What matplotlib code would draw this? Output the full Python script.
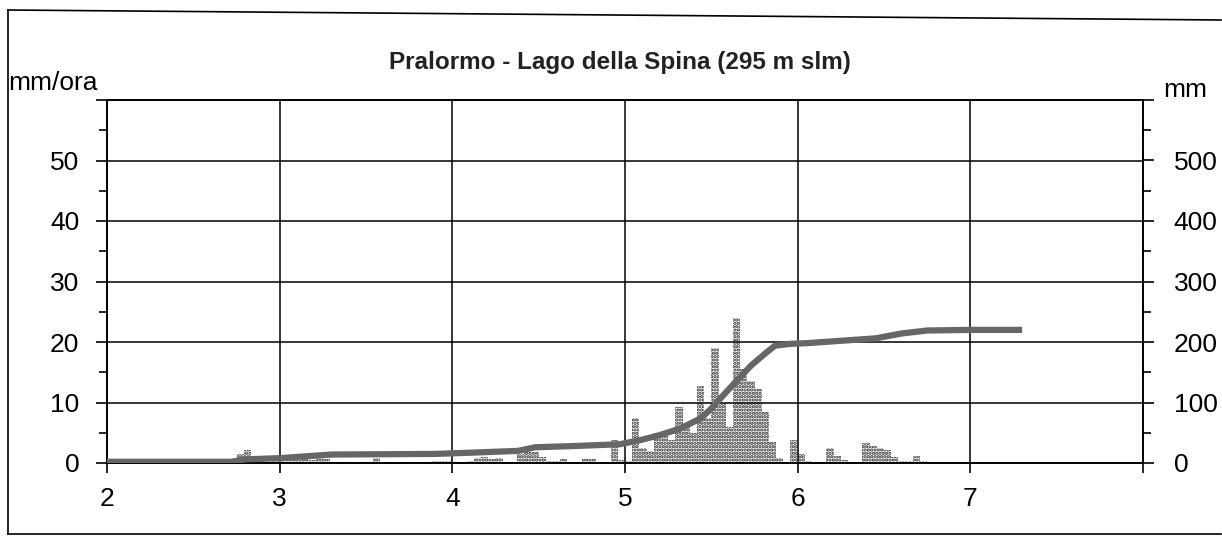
import matplotlib
matplotlib.use("Agg")
import matplotlib.pyplot as plt
import numpy as np
from matplotlib.lines import Line2D

plt.rcParams['font.family'] = ['Liberation Sans', 'DejaVu Sans']

title = "Pralormo - Lago della Spina (295 m slm)"
left_label = "mm/ora"
right_label = "mm"

# hourly rainfall intensity (mm/ora); hour index counted from day 2.0
rain_hours = list(range(0, 120))
rain_vals = [
    0, 0, 0, 0, 0, 0, 0, 0, 0, 0,            # 0-9
    0, 0, 0, 0, 0, 0, 0, 0.5, 1.5, 2.2,      # 10-19
    1.2, 0.3, 0, 0.3, 0.4, 0.5, 0.5, 0.6, 0.5, 0.8,  # 20-29
    0.6, 0.2, 0, 0.2, 0.2, 0, 0.2, 0.8, 0.2, 0,      # 30-39
    0, 0, 0, 0, 0.2, 0.3, 0.3, 0.3, 0.1, 0.2,        # 40-49
    0.4, 0.8, 1.0, 0.7, 0.9, 0.2, 0.1, 1.5, 2.0, 1.8,  # 50-59
    1.0, 0.4, 0.3, 0.6, 0, 0.2, 0.6, 0.7, 0.2, 0,      # 60-69
    3.8, 0.5, 0.3, 7.5, 2.5, 2.0, 5.0, 4.5, 3.8, 9.2,  # 70-79
    6.0, 5.0, 12.8, 7.5, 19.0, 10.0, 6.0, 24.0, 15.5, 13.5,  # 80-89
    12.3, 8.5, 3.5, 0.8, 0, 3.8, 1.5, 0.3, 0.2, 0.2,   # 90-99
    2.5, 1.2, 0.5, 0.1, 0.2, 3.3, 2.8, 2.5, 2.1, 1.0,  # 100-109
    0.4, 0.4, 1.2, 0.4, 0, 0, 0, 0.2, 0.2, 0,          # 110-119
]

# cumulative rainfall (mm) vs day
cum_days = [2.0, 2.72, 2.8, 3.0, 3.3, 3.9, 4.1, 4.38, 4.48, 4.7, 4.97, 5.09,
            5.2, 5.32, 5.44, 5.5, 5.56, 5.65, 5.73, 5.82, 5.87, 5.96, 6.05,
            6.3, 6.45, 6.6, 6.75, 7.0, 7.3]
cum_mm = [2, 2, 6, 8, 14, 15, 17, 20, 26, 28, 31, 38,
          46, 57, 74, 90, 109, 137, 161, 183, 194, 197, 198,
          203, 206, 214, 219, 220, 220]

x_ticks = [2, 3, 4, 5, 6, 7, 8]
x_labels = ["2", "3", "4", "5", "6", "7", ""]
left_ticks = [0, 10, 20, 30, 40, 50, 60]
left_labels = ["0", "10", "20", "30", "40", "50", ""]
right_ticks = [0, 100, 200, 300, 400, 500, 600]
right_labels = ["0", "100", "200", "300", "400", "500", ""]

W, H = 1222, 544
fig = plt.figure(figsize=(W / 100, H / 100), dpi=100)
fig.patch.set_facecolor("white")

ax = fig.add_axes([107 / W, 1 - 463 / H, (1143 - 107) / W, (463 - 100) / H])
ax2 = ax.twinx()

bar_x = [2 + h / 24 for h in rain_hours]
plt.rcParams['hatch.linewidth'] = 1.6
ax.bar(bar_x, rain_vals, width=1 / 24, align='edge', facecolor='none',
       edgecolor='#202020', hatch='.....', linewidth=0, zorder=3)

ax.set_xlim(2, 8)
ax.set_ylim(0, 60)
ax2.set_ylim(0, 600)

fs = 19
ax.set_xticks(x_ticks)
ax.set_xticklabels(x_labels, fontsize=fs)
ax.set_yticks(left_ticks)
ax.set_yticklabels(left_labels, fontsize=fs)
ax.set_yticks(np.arange(5, 60, 10), minor=True)
ax2.set_yticks(right_ticks)
ax2.set_yticklabels(right_labels, fontsize=fs)
ax2.set_yticks(np.arange(50, 600, 100), minor=True)

ax.tick_params(axis='x', direction='out', length=7, width=1.2, pad=10)
ax.tick_params(axis='y', which='major', direction='out', length=8, width=1.2, pad=12)
ax.tick_params(axis='y', which='minor', direction='out', length=6, width=1.2)
ax2.tick_params(axis='y', which='major', direction='out', length=8, width=1.2, pad=14)
ax2.tick_params(axis='y', which='minor', direction='out', length=6, width=1.2)

ax.grid(True, which='major', color='black', linewidth=1.1, zorder=1)
ax.set_axisbelow(True)
for a in (ax, ax2):
    for s in a.spines.values():
        s.set_linewidth(1.2)
        s.set_color('black')

ax2.plot(cum_days, cum_mm, color='#666666', linewidth=4.5, solid_capstyle='butt', zorder=4)

fig.text(620 / W, 1 - 62 / H, title, ha='center', va='center', fontsize=17.5,
         fontweight='bold', color='#222222')
fig.text(8 / W, 1 - 83 / H, left_label, ha='left', va='center', fontsize=fs)
fig.text(1163 / W, 1 - 90 / H, right_label, ha='left', va='center', fontsize=fs)

# outer frame (left, top, bottom)
for (x0, y0, x1, y1) in [(8, 10, 8, 534), (8, 10, 1221, 20), (8, 534, 1221, 534)]:
    fig.add_artist(Line2D([x0 / W, x1 / W], [1 - y0 / H, 1 - y1 / H],
                          color='black', linewidth=1.2))

fig.savefig("out.png", dpi=100)
